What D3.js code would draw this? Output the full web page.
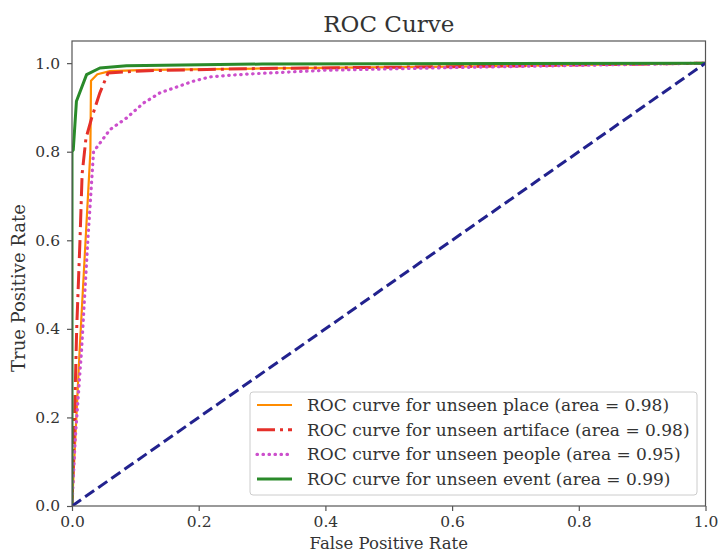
<!DOCTYPE html>
<html>
<head>
<meta charset="utf-8">
<script src="https://cdn.jsdelivr.net/npm/d3@7"></script>
<style>
  body { margin: 0; background: #fff; }
  svg text { font-family: "DejaVu Serif", serif; fill: #333; }
</style>
</head>
<body>
<svg id="roc" width="719" height="552"></svg>
<script>
// ROC points
const place_fpr = [0, 0.012, 0.029, 0.030, 0.040, 0.060, 0.12, 0.3, 0.6, 1.0]
const place_tpr = [0, 0.35, 0.80, 0.96, 0.975, 0.982, 0.985, 0.988, 0.992, 1.0]

const artiface_fpr = [0, 0.004, 0.0074, 0.0126, 0.016, 0.022, 0.031, 0.044, 0.057, 0.12, 0.3, 0.6, 1.0]
const artiface_tpr = [0, 0.2, 0.4, 0.6, 0.75, 0.83, 0.876, 0.933, 0.978, 0.983, 0.988, 0.992, 1.0]

const people_fpr = [0, 0.005, 0.015, 0.025, 0.034, 0.06, 0.086, 0.113, 0.139, 0.165, 0.191, 0.218, 0.244, 0.286, 0.4, 0.6, 1.0]
const people_tpr = [0, 0.15, 0.35, 0.6, 0.80, 0.85, 0.876, 0.91, 0.933, 0.946, 0.959, 0.969, 0.972, 0.976, 0.984, 0.99, 1.0]

const event_fpr = [0, 0, 0.002, 0.007, 0.023, 0.044, 0.086, 0.3, 1.0]
const event_tpr = [0, 0.80, 0.804, 0.914, 0.974, 0.989, 0.994, 0.998, 1.0]

const series_names = ["place", "artiface", "people", "event"]
const series_auc = [0.98, 0.98, 0.95, 0.99]
const x_ticks = [0, 0.2, 0.4, 0.6, 0.8, 1.0]
const y_ticks = [0, 0.2, 0.4, 0.6, 0.8, 1.0]

const svg = d3.select("#roc")
const margin = { left: 72, right: 13.5, top: 41, bottom: 46 }
const W = 719, H = 552

const x = d3.scaleLinear().domain([0, 1]).range([margin.left, W - margin.right])
const y = d3.scaleLinear().domain([0, 1.05]).range([H - margin.bottom, margin.top])

const styles = [
    { color: "#ff8c00", dash: null, width: 2.2 },
    { color: "#e5302a", dash: "18,5,3,5", width: 3 },
    { color: "#cc4fcc", dash: "0.5,5.5", width: 3.2, cap: "round" },
    { color: "#2a8a2a", dash: null, width: 3 }
]

const series = [
    d3.zip(place_fpr, place_tpr),
    d3.zip(artiface_fpr, artiface_tpr),
    d3.zip(people_fpr, people_tpr),
    d3.zip(event_fpr, event_tpr)
]

svg.append("defs").append("clipPath").attr("id", "plot-clip")
    .append("rect")
    .attr("x", x(0)).attr("y", y(1.05))
    .attr("width", x(1) - x(0)).attr("height", y(0) - y(1.05))

const line = d3.line().x(d => x(d[0])).y(d => y(d[1]))

const plot = svg.append("g").attr("clip-path", "url(#plot-clip)")

series.forEach((pts, i) => {
    plot.append("path")
        .datum(pts)
        .attr("d", line)
        .attr("fill", "none")
        .attr("stroke", styles[i].color)
        .attr("stroke-width", styles[i].width)
        .attr("stroke-dasharray", styles[i].dash)
        .attr("stroke-linecap", styles[i].cap || "butt")
        .attr("stroke-linejoin", "round")
})

// chance diagonal
plot.append("path")
    .datum([[0, 0], [1, 1]])
    .attr("d", line)
    .attr("fill", "none")
    .attr("stroke", "#22228e")
    .attr("stroke-width", 3)
    .attr("stroke-dasharray", "11,5")

// frame
svg.append("rect")
    .attr("x", x(0)).attr("y", y(1.05))
    .attr("width", x(1) - x(0)).attr("height", y(0) - y(1.05))
    .attr("fill", "none")
    .attr("stroke", "#555")
    .attr("stroke-width", 1.2)

const xAxis = d3.axisBottom(x).tickValues(x_ticks).tickFormat(d3.format(".1f")).tickSize(5).tickPadding(5)
const yAxis = d3.axisLeft(y).tickValues(y_ticks).tickFormat(d3.format(".1f")).tickSize(5).tickPadding(7)

const gx = svg.append("g").attr("transform", `translate(0,${y(0)})`).call(xAxis)
const gy = svg.append("g").attr("transform", `translate(${x(0)},0)`).call(yAxis)
;[gx, gy].forEach(g => {
    g.select(".domain").remove()
    g.selectAll(".tick line").attr("stroke", "#555").attr("stroke-width", 1.2)
    g.selectAll(".tick text").attr("font-size", 15.5).style("font-family", "DejaVu Serif").attr("fill", "#333")
})

svg.append("text")
    .attr("x", (x(0) + x(1)) / 2).attr("y", 32)
    .attr("text-anchor", "middle")
    .attr("font-size", 23)
    .text("ROC Curve")

svg.append("text")
    .attr("x", (x(0) + x(1)) / 2).attr("y", 549)
    .attr("text-anchor", "middle")
    .attr("font-size", 16.5)
    .text("False Positive Rate")

svg.append("text")
    .attr("transform", "translate(25,288) rotate(-90)")
    .attr("text-anchor", "middle")
    .attr("font-size", 18)
    .text("True Positive Rate")

// legend
const lg = svg.append("g").attr("transform", "translate(250,392)")
lg.append("rect")
    .attr("width", 447).attr("height", 103).attr("rx", 3)
    .attr("fill", "#fff").attr("fill-opacity", 0.85)
    .attr("stroke", "#ccc")

series_names.forEach((name, i) => {
    const row = lg.append("g").attr("transform", `translate(0,${13 + i * 24.7})`)
    row.append("line")
        .attr("x1", 7).attr("x2", 42)
        .attr("stroke", styles[i].color)
        .attr("stroke-width", styles[i].width)
        .attr("stroke-dasharray", styles[i].dash)
        .attr("stroke-linecap", styles[i].cap || "butt")
    row.append("text")
        .attr("x", 57).attr("dy", "0.35em")
        .attr("font-size", 17)
        .text(`ROC curve for unseen ${name} (area = ${series_auc[i].toFixed(2)})`)
})
</script>
</body>
</html>
